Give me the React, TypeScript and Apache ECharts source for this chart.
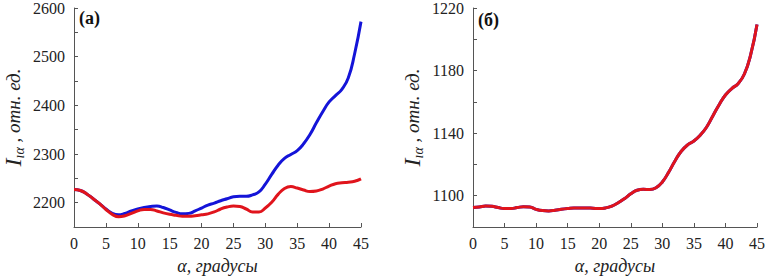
import React, { useEffect, useRef } from "react";
import * as echarts from "echarts";

const angles: number[] = Array.from({ length: 46 }, (_, i) => i);

const redA: number[] = [
  2227, 2225, 2218, 2208, 2198, 2186, 2176, 2171, 2173, 2178,
  2183, 2186, 2186, 2183, 2179, 2176, 2174, 2172, 2172, 2173,
  2175, 2177, 2181, 2187, 2191, 2193, 2192, 2187, 2181, 2181,
  2189, 2201, 2217, 2229, 2233, 2230, 2226, 2223, 2224, 2228,
  2234, 2239, 2241, 2242, 2244, 2249,
];

const blueA: number[] = [
  2227, 2225, 2218, 2208, 2198, 2187, 2178, 2175, 2178, 2183,
  2187, 2190, 2192, 2193, 2190, 2185, 2180, 2177, 2178, 2183,
  2189, 2195, 2199, 2204, 2208, 2212, 2213, 2213, 2216, 2222,
  2238, 2258, 2277, 2291, 2299, 2307, 2321, 2340, 2364, 2387,
  2407, 2420, 2433, 2456, 2506, 2572,
];

const redB: number[] = [
  1092.4, 1092.8, 1093.4, 1093.2, 1092.4, 1091.8, 1091.8, 1092.4, 1093, 1092.8,
  1091.3, 1090.5, 1090.3, 1090.7, 1091.3, 1091.8, 1092.2, 1092.2, 1092.2, 1092,
  1091.8, 1092.2, 1093.4, 1095.5, 1098.1, 1101.2, 1103.5, 1104.1, 1103.9, 1105.1,
  1108.8, 1115, 1122.2, 1128.4, 1132.5, 1135, 1138.7, 1143.8, 1151, 1158.2,
  1164.4, 1168.5, 1171.6, 1177.8, 1190.2, 1209.5,
];

const blueB: number[] = redB.slice();

const xTicksA = { min: 0, max: 45, interval: 5 };
const yRangeA = { min: 2150, max: 2600, interval: 50, labelStep: 100, labelBase: 2200 };
const yRangeB = { min: 1080, max: 1220, interval: 20, labelStep: 40, labelBase: 1100 };

const xName = "α, градусы";
const yName = "{i|I}{s|ıα}{n| , отн. ед.}";
const panelLabels = ["(а)", "(б)"];

const BLUE = "#1414d8";
const RED = "#e0141c";
const FONT = "'Liberation Serif', 'Times New Roman', serif";

export default function App() {
  const ref = useRef<HTMLDivElement>(null);

  useEffect(() => {
    if (!ref.current) return;
    const chart = echarts.init(ref.current, undefined, { renderer: "svg" });

    const axisCommon = {
      axisLine: { show: true, lineStyle: { color: "#555", width: 1 } },
      axisTick: { show: true, inside: true, length: 4, lineStyle: { color: "#555" } },
      splitLine: { show: false },
    };

    const xAxis = (gi: number) => ({
      type: "value",
      gridIndex: gi,
      min: xTicksA.min,
      max: xTicksA.max,
      interval: xTicksA.interval,
      ...axisCommon,
      axisLabel: { color: "#222", fontFamily: FONT, fontSize: 16, margin: 8 },
      name: xName,
      nameLocation: "middle",
      nameGap: 30,
      nameTextStyle: { color: "#222", fontFamily: FONT, fontSize: 18, fontStyle: "italic" },
    });

    const yAxis = (gi: number, r: typeof yRangeA) => ({
      type: "value",
      gridIndex: gi,
      min: r.min,
      max: r.max,
      interval: r.interval,
      ...axisCommon,
      axisLabel: {
        color: "#222",
        fontFamily: FONT,
        fontSize: 16,
        margin: 9,
        showMinLabel: true,
        showMaxLabel: true,
        formatter: (v: number) =>
          Math.abs((v - r.labelBase) % r.labelStep) < 1e-6 ? String(v) : "",
      },
      name: yName,
      nameLocation: "middle",
      nameRotate: 90,
      nameGap: 48,
      nameTextStyle: {
        rich: {
          i: { fontFamily: FONT, fontSize: 24, fontStyle: "italic", color: "#222", lineHeight: 26 },
          s: { fontFamily: FONT, fontSize: 14, fontStyle: "italic", color: "#222", verticalAlign: "bottom", lineHeight: 14, padding: [10, 0, 0, 0] },
          n: { fontFamily: FONT, fontSize: 19, fontStyle: "italic", color: "#222", lineHeight: 26 },
        },
      },
    });

    const line = (name: string, data: number[], color: string, idx: number) => ({
      type: "line",
      name,
      xAxisIndex: idx,
      yAxisIndex: idx,
      data: angles.map((a, i) => [a, data[i]]),
      smooth: 0.5,
      showSymbol: false,
      lineStyle: { color, width: 3 },
      itemStyle: { color },
    });

    chart.setOption({
      animation: false,
      backgroundColor: "#fff",
      grid: [
        { left: 73, top: 6, width: 288, height: 226 },
        { left: 473, top: 7, width: 288, height: 225 },
      ],
      xAxis: [xAxis(0), xAxis(1)],
      yAxis: [yAxis(0, yRangeA), yAxis(1, yRangeB)],
      graphic: [
        {
          type: "text",
          left: 79,
          top: 9,
          style: { text: panelLabels[0], fontFamily: FONT, fontSize: 18, fontWeight: "bold", fill: "#111" },
        },
        {
          type: "text",
          left: 478,
          top: 11,
          style: { text: panelLabels[1], fontFamily: FONT, fontSize: 18, fontWeight: "bold", fill: "#111" },
        },
      ],
      series: [
        line("blue a", blueA, BLUE, 0),
        line("red a", redA, RED, 0),
        line("blue b", blueB, BLUE, 1),
        line("red b", redB, RED, 1),
      ],
    });

    return () => chart.dispose();
  }, []);

  return (
    <div
      ref={ref}
      style={{ position: "absolute", left: 0, top: 0, width: 768, height: 280 }}
    />
  );
}
